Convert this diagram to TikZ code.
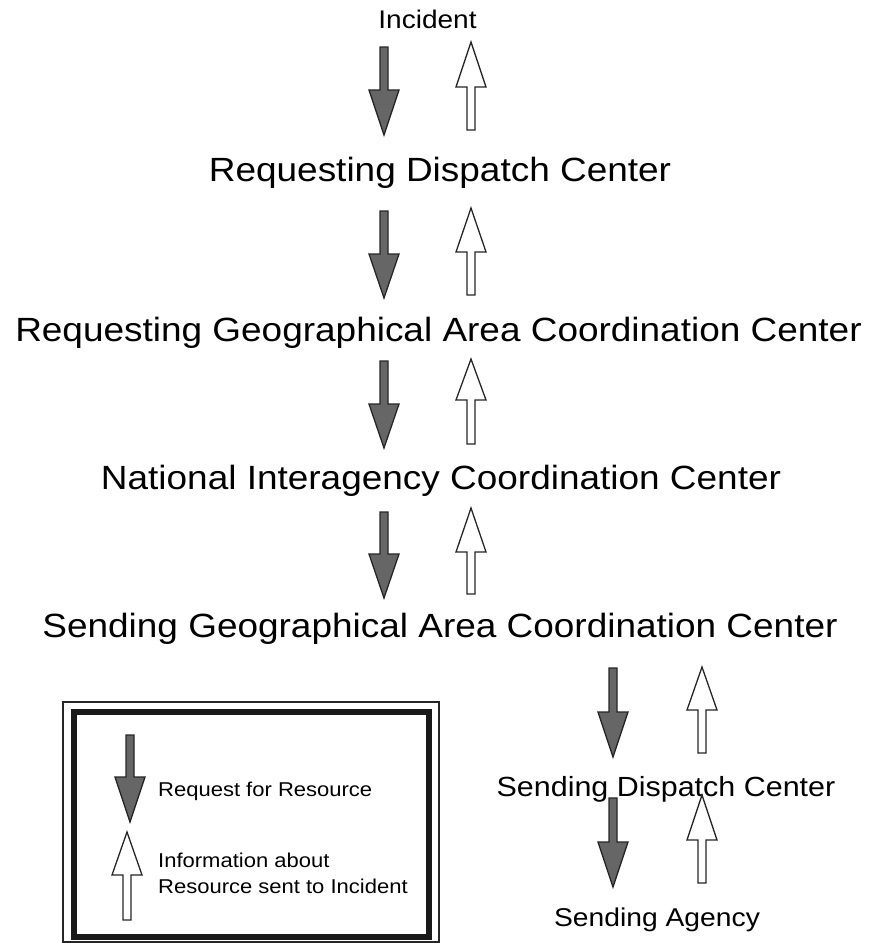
\documentclass[tikz,border=0pt]{standalone}
\usepackage{fontspec}
\setmainfont{Liberation Sans}[FakeStretch=1.1]
\begin{document}
\begin{tikzpicture}[x=1pt,y=-1pt,
  reqarrow/.style={draw=black!85,fill=black!60,line width=1.3pt,line join=miter},
  infoarrow/.style={draw=black!85,fill=white,line width=1.3pt,line join=miter},
  lbl/.style={inner sep=0pt,anchor=base},
  bigtxt/.style={lbl,font=\fontsize{33.6}{38}\selectfont},
  legtxt/.style={inner sep=0pt,anchor=base west,font=\fontsize{20}{26}\selectfont,align=left}]
\useasboundingbox (0,0) rectangle (871,943);
\newcommand\reqdown[4]{\draw[reqarrow] (#1-4,#2) -- (#1+4,#2) -- (#1+4,#3) -- (#1+15,#3) -- (#1,#4) -- (#1-15,#3) -- (#1-4,#3) -- cycle;}
\newcommand\infoup[4]{\draw[infoarrow] (#1,#2) -- (#1+15,#3) -- (#1+4,#3) -- (#1+4,#4) -- (#1-4,#4) -- (#1-4,#3) -- (#1-15,#3) -- cycle;}
% labels
\node[lbl,font=\fontsize{25.5}{30}\selectfont] (inc) at (427.5,28) {Incident};
\node[bigtxt] (rdc) at (440,181) {Requesting Dispatch Center};
\node[bigtxt] (rgacc) at (438.5,341) {Requesting Geographical Area Coordination Center};
\node[bigtxt] (nicc) at (441,489) {National Interagency Coordination Center};
\node[bigtxt] (sgacc) at (440,637) {Sending Geographical Area Coordination Center};
\node[lbl,font=\fontsize{27.7}{32}\selectfont] (sdc) at (666,796) {Sending Dispatch Center};
\node[lbl,font=\fontsize{25.7}{30}\selectfont] (sa) at (657,926) {Sending Agency};
% arrows
\reqdown{384}{47}{90}{135}  \infoup{471}{42}{87}{130}
\reqdown{384}{211}{254}{298} \infoup{471}{208}{252}{295}
\reqdown{384}{361}{404}{448} \infoup{471}{359}{400}{444}
\reqdown{384}{512}{554}{598} \infoup{471}{508}{552}{594}
\reqdown{613}{668}{712}{757} \infoup{702}{667}{710}{753}
\reqdown{613}{798}{842}{887} \infoup{702}{795}{840}{883}
% legend
\draw[line width=1.5pt,black!85] (63,702) rectangle (439,942);
\draw[line width=6pt,black!90] (74,712) rectangle (429,937);
\reqdown{130}{735}{777}{822}
\infoup{127}{832}{875}{920}
\node[legtxt] (lreq) at (158,796) {Request for Resource};
\node[legtxt] (linfo) at (158,867) {Information about};
\node[legtxt] (linfo2) at (158,893) {Resource sent to Incident};
\end{tikzpicture}
\end{document}
